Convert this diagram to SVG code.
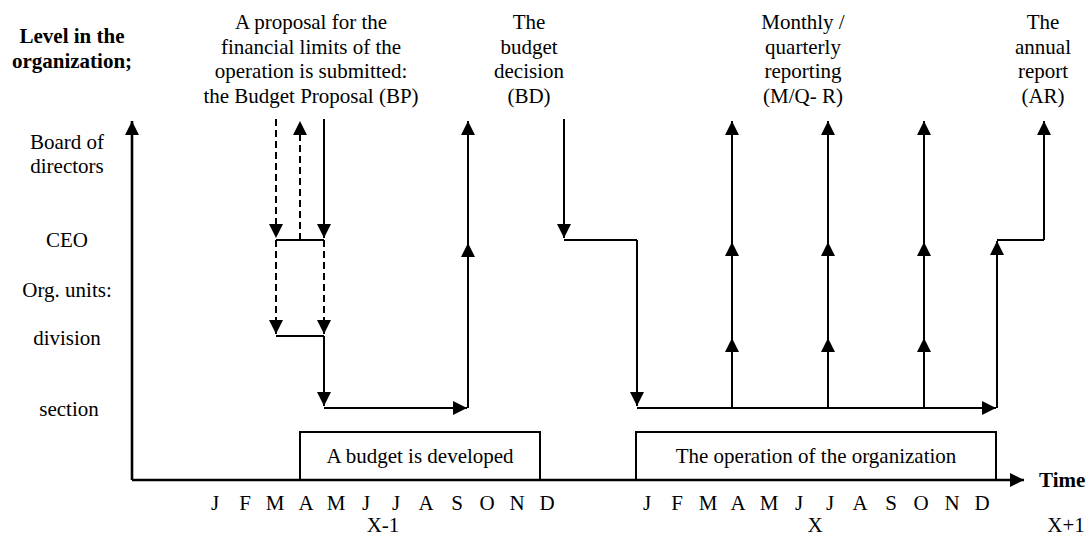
<svg xmlns="http://www.w3.org/2000/svg" width="1088" height="535" viewBox="0 0 1088 535" font-family="'Liberation Serif', 'Times New Roman', 'DejaVu Serif', serif">
<style>
text{font-family:'Liberation Serif','Times New Roman','DejaVu Serif',serif;font-size:21px;fill:#000}
.b{font-weight:bold}
.m{text-anchor:middle}
.ln{fill:none;stroke:#000;stroke-width:2}
.ax{fill:none;stroke:#000;stroke-width:2.6}
.ds{fill:none;stroke:#000;stroke-width:2;stroke-dasharray:7 4}
.box{fill:#fff;stroke:#000;stroke-width:2}
.ar{marker-end:url(#ah)}
</style>
<defs>
<marker id="ah" markerUnits="userSpaceOnUse" markerWidth="15" markerHeight="15" refX="14" refY="7" orient="auto" viewBox="0 0 15 15">
<path d="M0,0 L14,7 L0,14 z" fill="#000"/>
</marker>
</defs>
<rect width="1088" height="535" fill="#fff"/>

<g id="axis-title">
<text class="b m" x="72" y="43">Level in the</text>
<text class="b m" x="72" y="68">organization;</text>
</g>
<g id="level-board"><text class="m" x="67" y="149">Board of</text><text class="m" x="67" y="173">directors</text></g>
<g id="level-ceo"><text class="m" x="67" y="247">CEO</text></g>
<g id="level-orgunits"><text class="m" x="67" y="297">Org. units:</text></g>
<g id="level-division"><text class="m" x="67" y="345">division</text></g>
<g id="level-section"><text class="m" x="69" y="416">section</text></g>

<g id="label-bp">
<text class="m" x="311" y="29">A proposal for the</text>
<text class="m" x="311" y="53.5">financial limits of the</text>
<text class="m" x="311" y="78">operation is submitted:</text>
<text class="m" x="311" y="102.5">the Budget Proposal (BP)</text>
</g>
<g id="label-bd">
<text class="m" x="529" y="29">The</text>
<text class="m" x="529" y="53.5">budget</text>
<text class="m" x="529" y="78">decision</text>
<text class="m" x="529" y="102.5">(BD)</text>
</g>
<g id="label-mqr">
<text class="m" x="803" y="29">Monthly /</text>
<text class="m" x="803" y="53.5">quarterly</text>
<text class="m" x="803" y="78">reporting</text>
<text class="m" x="803" y="102.5">(M/Q- R)</text>
</g>
<g id="label-ar">
<text class="m" x="1043" y="29">The</text>
<text class="m" x="1043" y="53.5">annual</text>
<text class="m" x="1043" y="78">report</text>
<text class="m" x="1043" y="102.5">(AR)</text>
</g>

<g id="box-budget">
<rect class="box" x="300" y="432" width="240" height="48"/>
<text class="m" x="420" y="463">A budget is developed</text>
</g>
<g id="box-operation">
<rect class="box" x="636" y="432" width="360" height="48"/>
<text class="m" x="816" y="463">The operation of the organization</text>
</g>

<g id="connectors">
<path class="ax ar" d="M132,480 L132,121"/>
<path class="ax ar" d="M132,480 L1024,480"/>
<path class="ds ar" d="M276,119 L276,238"/>
<path class="ds ar" d="M300,240 L300,121"/>
<path class="ln ar" d="M324,119 L324,238"/>
<path class="ln" d="M276,240 L324,240"/>
<path class="ds ar" d="M276,240 L276,334"/>
<path class="ds ar" d="M324,240 L324,334"/>
<path class="ln" d="M276,336 L324,336"/>
<path class="ln ar" d="M324,336 L324,406"/>
<path class="ln ar" d="M324,408 L467,408"/>
<path class="ln ar" d="M468,408 L468,243"/>
<path class="ln ar" d="M468,243 L468,121"/>
<path class="ln ar" d="M564,119 L564,238"/>
<path class="ln" d="M564,240 L637,240"/>
<path class="ln ar" d="M637,240 L637,406"/>
<path class="ln ar" d="M637,408 L996,408"/>
<path class="ln ar" d="M732,408 L732,338"/>
<path class="ln ar" d="M732,338 L732,242"/>
<path class="ln ar" d="M732,242 L732,121"/>
<path class="ln ar" d="M828,408 L828,338"/>
<path class="ln ar" d="M828,338 L828,242"/>
<path class="ln ar" d="M828,242 L828,121"/>
<path class="ln ar" d="M924,408 L924,338"/>
<path class="ln ar" d="M924,338 L924,242"/>
<path class="ln ar" d="M924,242 L924,121"/>
<path class="ln ar" d="M997,408 L997,241"/>
<path class="ln" d="M997,240 L1044,240"/>
<path class="ln ar" d="M1044,240 L1044,121"/>
</g>

<g id="time-label"><text class="b" x="1039" y="487">Time</text></g>

<g id="months-x-1">
<text class="m" x="215" y="510">J</text><text class="m" x="245" y="510">F</text><text class="m" x="275" y="510">M</text><text class="m" x="306" y="510">A</text><text class="m" x="336" y="510">M</text><text class="m" x="366" y="510">J</text><text class="m" x="396" y="510">J</text><text class="m" x="426" y="510">A</text><text class="m" x="457" y="510">S</text><text class="m" x="487" y="510">O</text><text class="m" x="517" y="510">N</text><text class="m" x="547" y="510">D</text>
<text class="m" x="383" y="532">X-1</text>
</g>
<g id="months-x">
<text class="m" x="647" y="510">J</text><text class="m" x="677" y="510">F</text><text class="m" x="708" y="510">M</text><text class="m" x="738" y="510">A</text><text class="m" x="769" y="510">M</text><text class="m" x="799" y="510">J</text><text class="m" x="830" y="510">J</text><text class="m" x="860" y="510">A</text><text class="m" x="891" y="510">S</text><text class="m" x="921" y="510">O</text><text class="m" x="952" y="510">N</text><text class="m" x="982" y="510">D</text>
<text class="m" x="815" y="532">X</text>
</g>
<g id="year-x1"><text class="m" x="1066" y="532">X+1</text></g>
</svg>
